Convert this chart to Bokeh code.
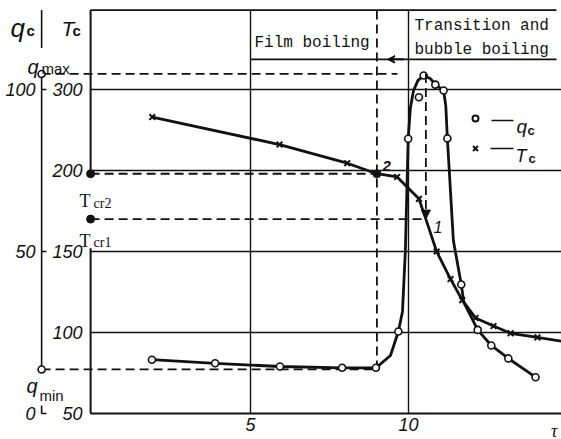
from bokeh.plotting import figure
from bokeh.models import Range1d, LinearAxis, FixedTicker, Label, Arrow, NormalHead, VeeHead
from bokeh.embed import file_html
from bokeh.resources import INLINE

# ---------------- data ----------------
# q_c (heat flux) measured points and drawn curve
tau_q_pts = [1.88, 3.88, 5.93, 7.9, 8.97, 9.68, 9.99, 10.33, 10.48, 10.85, 11.11, 11.23,
             11.67, 12.19, 12.62, 13.16, 14.02]
q_pts = [16.6, 15.5, 14.5, 14.1, 14.1, 25.3, 84.8, 97.6, 104.3, 101.5, 99.7, 84.9,
         39.8, 25.8, 21.0, 17.0, 11.2]
tau_q_line = [1.88, 3.88, 5.93, 7.9, 8.97, 9.43, 9.68, 9.81, 9.9, 9.99, 10.06, 10.16, 10.3,
              10.48, 10.7, 10.85, 11.11, 11.18, 11.23, 11.42, 11.67, 11.75, 12.19, 12.62,
              13.16, 14.02]
q_line = [16.6, 15.5, 14.5, 14.1, 14.1, 17.9, 25.3, 31.5, 50.0, 84.8, 94.4, 99.7, 102.8,
          104.3, 103.3, 101.5, 99.7, 95.0, 84.9, 53.4, 39.8, 34.3, 25.8, 21.0, 17.0, 11.2]

# T_c (temperature) measured points and drawn curve
tau_T_pts = [1.89, 5.92, 8.06, 9.64, 10.33, 10.89, 11.33, 11.7, 12.12, 12.69, 13.23, 14.08]
T_pts = [233, 216, 204.5, 196, 182.5, 150, 133, 120, 109, 104, 99.5, 97]
tau_T_line = [1.89, 5.92, 8.06, 9.0, 9.64, 10.33, 10.55, 10.89, 11.33, 11.7, 12.12, 12.69,
              13.23, 14.08, 14.84]
T_line = [233, 216, 204.5, 198, 196, 182.5, 170, 150, 133, 120, 109, 104, 99.5, 97, 94.6]

# characteristic values
q_max = 104.8
q_min = 13.6
T_cr2 = 198
T_cr1 = 170
tau_2 = 9.0
tau_1 = 10.55

# ticks
tau_ticks = [5, 10]
q_ticks = [0, 50, 100]
T_ticks = [50, 100, 150, 200, 250]
T_tick_labels = {250: "300"}

# ---------------- layout / style constants ----------------
W, H = 561, 439
X_START, X_END = (0 - 92) / 31.6, (W - 92) / 31.6
Q_START, Q_END = (413 - H) / 3.24, (413 - 0) / 3.24
T_START, T_END = 50 + 2 * Q_START, 50 + 2 * Q_END
T_AXIS_X = -0.06
Q_AXIS_X = -1.61
TOP = 124.5
HEADER = 109.3
INK = "#111111"
DASH = "9 5"


def X(px):
    return (px - 92) / 31.6


def Y(py):
    return (413 - py) / 3.24


def q_of_T(t):
    return (t - 50) / 2


p = figure(width=W, height=H, output_backend="svg", toolbar_location=None,
           x_axis_type=None, y_axis_type=None,
           x_range=Range1d(X_START, X_END), y_range=Range1d(Q_START, Q_END))
p.extra_y_ranges = {"T": Range1d(T_START, T_END)}
p.min_border = 0
p.min_border_left = 0
p.min_border_right = 0
p.min_border_top = 0
p.min_border_bottom = 0
p.outline_line_color = None
p.background_fill_color = "white"
p.border_fill_color = "white"

tick_font = dict(major_label_text_font="Liberation Sans",
                 major_label_text_font_style="italic",
                 major_label_text_font_size="18px",
                 major_label_text_color=INK)

xaxis = LinearAxis(fixed_location=0, ticker=FixedTicker(ticks=tau_ticks),
                   bounds=(T_AXIS_X, X_END), axis_line_width=2.2, axis_line_color=INK,
                   major_tick_in=0, major_tick_out=0, minor_tick_in=0, minor_tick_out=0,
                   major_label_standoff=4, **tick_font)
p.add_layout(xaxis, "below")

qaxis = LinearAxis(fixed_location=Q_AXIS_X, ticker=FixedTicker(ticks=q_ticks),
                   axis_line_color=None, major_tick_in=5, major_tick_out=0,
                   major_tick_line_width=1.5, major_tick_line_color=INK,
                   minor_tick_in=0, minor_tick_out=0, major_label_standoff=6, **tick_font)
p.add_layout(qaxis, "left")

taxis = LinearAxis(y_range_name="T", fixed_location=T_AXIS_X,
                   ticker=FixedTicker(ticks=T_ticks), major_label_overrides=T_tick_labels,
                   axis_line_color=None, major_tick_in=0, major_tick_out=0,
                   minor_tick_in=0, minor_tick_out=0, major_label_standoff=8, **tick_font)
p.add_layout(taxis, "left")

# axis lines (with gaps where the labels sit)
p.segment(x0=[Q_AXIS_X] * 3, y0=[0, q_min, 112.8], x1=[Q_AXIS_X] * 3, y1=[2.5, q_max, TOP],
          line_color=INK, line_width=1.6)
p.segment(x0=[T_AXIS_X] * 2, y0=[T_ticks[0], T_cr2], x1=[T_AXIS_X] * 2, y1=[152, 50 + 2 * TOP],
          y_range_name="T", line_color=INK, line_width=2)

# grid lines and frame
hT = T_ticks[1:]
p.segment(x0=[T_AXIS_X] * len(hT), y0=hT, x1=[X_END] * len(hT), y1=hT, y_range_name="T",
          line_color=INK, line_width=1.4)
p.segment(x0=tau_ticks, y0=[0] * len(tau_ticks), x1=tau_ticks, y1=[TOP] * len(tau_ticks),
          line_color=INK, line_width=1.4)
p.segment(x0=[T_AXIS_X, tau_ticks[0]], y0=[TOP, HEADER], x1=[X(556), X(556)], y1=[TOP, HEADER],
          line_color=INK, line_width=1.6)
p.add_layout(Arrow(end=VeeHead(size=7, line_color=INK, line_width=1.5),
                   x_start=9.85, y_start=HEADER, x_end=9.35, y_end=HEADER,
                   line_color=INK, line_width=2))

# dashed construction lines
p.segment(x0=[Q_AXIS_X, Q_AXIS_X, tau_2], y0=[q_max, q_min, q_min],
          x1=[9.65, tau_2, tau_2], y1=[q_max, q_min, TOP],
          line_color=INK, line_width=1.8, line_dash=DASH)
p.segment(x0=[T_AXIS_X, T_AXIS_X], y0=[T_cr2, T_cr1], x1=[tau_2, tau_1], y1=[T_cr2, T_cr1],
          y_range_name="T", line_color=INK, line_width=1.8, line_dash=DASH)
p.add_layout(Arrow(end=NormalHead(size=9, fill_color=INK, line_color=INK),
                   x_start=tau_1, y_start=q_max, x_end=tau_1, y_end=q_of_T(T_cr1),
                   line_color=INK, line_width=1.8, line_dash=DASH))

# curves
p.line(tau_q_line, q_line, line_color=INK, line_width=2.8)
p.line(tau_T_line, T_line, y_range_name="T", line_color=INK, line_width=2.8)
p.scatter(tau_T_pts, T_pts, y_range_name="T", marker="x", size=8, line_color=INK, line_width=2)
p.scatter(tau_q_pts, q_pts, marker="circle", size=7, fill_color="white", line_color=INK,
          line_width=1.6)

# characteristic points
p.scatter([T_AXIS_X, T_AXIS_X, tau_2], [T_cr2, T_cr1, T_cr2], y_range_name="T",
          marker="circle", size=8, fill_color=INK, line_color=INK)
p.scatter([Q_AXIS_X, Q_AXIS_X], [q_max, q_min], marker="circle", size=7,
          fill_color="white", line_color=INK, line_width=1.6)

# legend (drawn by hand)
p.scatter([X(475)], [Y(118)], marker="circle", size=6, fill_color="white", line_color=INK,
          line_width=2)
p.scatter([X(475)], [Y(148)], marker="x", size=7, line_color=INK, line_width=2)
p.segment(x0=[X(491), X(490)], y0=[Y(120), Y(148)], x1=[X(513), X(513)], y1=[Y(120), Y(148)],
          line_color=INK, line_width=1.6)


def lab(px, py, text, size, font="Liberation Sans", style="normal", align="left"):
    p.add_layout(Label(x=X(px), y=Y(py), text=text, text_font=font,
                       text_font_size=f"{size}px", text_font_style=style,
                       text_align=align, text_baseline="alphabetic", text_color=INK))


lab(516, 126, "q", 19, style="italic")
lab(527, 130, "c", 13, style="bold")
lab(515, 155, "T", 18, style="italic")
lab(528, 158, "c", 13, style="bold")

# axis titles
lab(10, 27, "q", 26, style="italic")
lab(26, 30, "c", 15, style="bold")
lab(61, 28, "T", 21, style="italic")
lab(72, 30, "c", 15, style="bold")

# q_max / q_min
lab(27, 66, "q", 20, style="italic")
lab(41, 68, "max", 15)
lab(26, 385, "q", 20, style="italic")
lab(39, 395, "min", 15)

# critical temperatures
lab(79, 200, "T", 18, font="Liberation Serif")
lab(93, 203, "cr2", 14, font="Liberation Serif")
lab(79, 240, "T", 18, font="Liberation Serif")
lab(93, 242, "cr1", 14, font="Liberation Serif")

# points 1 and 2
lab(382, 165, "2", 15, style="bold italic")
lab(433, 226, "1", 16, style="italic")

# regime headers
lab(254, 42, "Film boiling", 16, font="Liberation Mono")
lab(414, 25, "Transition and", 16, font="Liberation Mono")
lab(414, 49, "bubble boiling", 16, font="Liberation Mono")

# abscissa symbol
lab(557, 430, "τ", 18, font="Liberation Serif", style="italic", align="right")

open("out.html", "w").write(file_html(p, INLINE))
